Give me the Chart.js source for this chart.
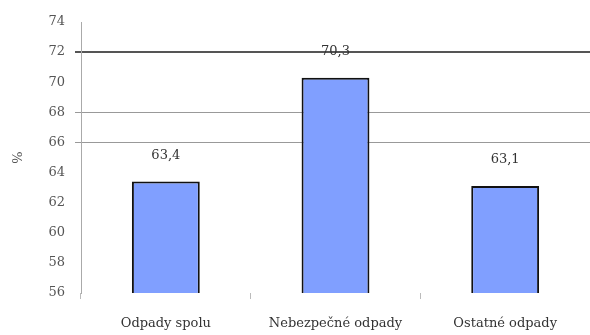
<!DOCTYPE html>
<html>
<head>
<meta charset="utf-8">
<script src="https://cdn.jsdelivr.net/npm/chart.js@4/dist/chart.umd.min.js"></script>
<style>
  html, body { margin: 0; padding: 0; background: #fff; }
  #wrap { width: 590px; height: 335px; }
</style>
</head>
<body>
<div id="wrap"><canvas id="myChart"></canvas></div>
<script>
const categories = ['Odpady spolu', 'Nebezpečné odpady', 'Ostatné odpady'];
const shares = [63.4, 70.3, 63.1];
const valueLabels = ['63,4', '70,3', '63,1'];
const yTicks = [56, 58, 60, 62, 64, 66, 68, 70, 72, 74];

// draws the value text well above each bar, like the original
const barLabels = {
  id: 'barLabels',
  afterDatasetsDraw(chart) {
    const ctx = chart.ctx;
    const meta = chart.getDatasetMeta(0);
    ctx.save();
    ctx.font = '13px "DejaVu Serif"';
    ctx.fillStyle = '#333';
    ctx.textAlign = 'center';
    ctx.textBaseline = 'middle';
    meta.data.forEach((bar, i) => {
      ctx.fillText(valueLabels[i], bar.x, bar.y - 26);
    });
    ctx.restore();
  }
};

const ctx = document.getElementById('myChart').getContext('2d');
new Chart(ctx, {
  type: 'bar',
  data: {
    labels: categories,
    datasets: [{
      data: shares,
      backgroundColor: '#809fff',
      borderColor: '#111',
      borderWidth: 2,
      borderSkipped: false,
      barPercentage: 0.4,
      categoryPercentage: 1
    }]
  },
  options: {
    responsive: true,
    maintainAspectRatio: false,
    animation: false,
    layout: { padding: { top: 22, right: 0, left: 0, bottom: 0 } },
    plugins: {
      legend: { display: false },
      tooltip: { enabled: false }
    },
    scales: {
      x: {
        border: { display: false },
        grid: {
          drawOnChartArea: false,
          drawTicks: true,
          tickLength: 6,
          color: '#bbb'
        },
        ticks: {
          color: '#333',
          padding: 17,
          font: { family: 'DejaVu Serif', size: 13 }
        },
        afterFit(scale) { scale.height = 42; }
      },
      y: {
        min: 56,
        max: 74,
        afterBuildTicks(scale) {
          scale.ticks = yTicks.map(v => ({ value: v }));
        },
        border: { display: true, color: '#aaa', width: 1 },
        grid: {
          tickLength: 6,
          color: c => c.tick && c.tick.value === 72 ? '#555' : (c.tick && (c.tick.value === 68 || c.tick.value === 66) ? '#999' : 'rgba(0,0,0,0)'),
          lineWidth: c => c.tick && c.tick.value === 72 ? 2 : 1
        },
        ticks: {
          color: '#555',
          padding: 10,
          font: { family: 'DejaVu Serif', size: 13 }
        },
        title: {
          display: true,
          text: '%',
          color: '#555',
          padding: { top: 11, bottom: 0 },
          font: { family: 'DejaVu Serif', size: 13 }
        },
        afterFit(scale) { scale.width = 81; }
      }
    }
  },
  plugins: [barLabels]
});
</script>
</body>
</html>
